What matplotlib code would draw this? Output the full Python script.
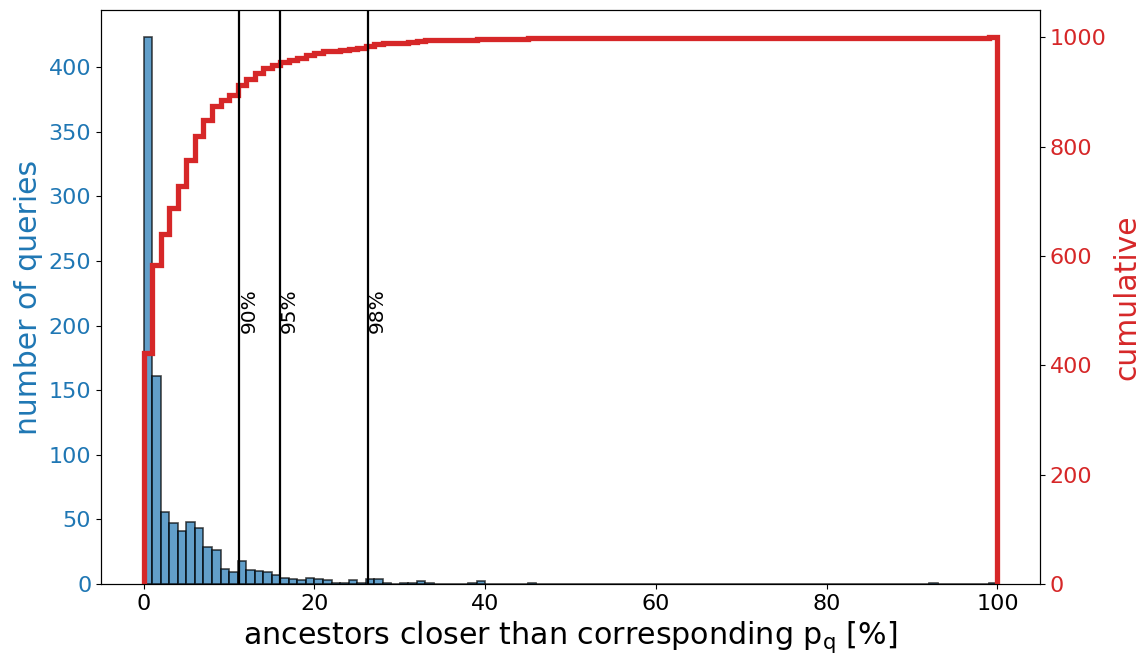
import matplotlib
matplotlib.use("Agg")
import matplotlib.pyplot as plt
import numpy as np

# queries per 1% bin of "ancestors closer than p_q" (bins 0..99)
counts = np.zeros(100)
counts[:29] = [423, 161, 56, 47, 41, 48, 43, 29, 26, 12,
               9, 18, 11, 10, 9, 7, 5, 4, 3, 5,
               4, 3, 1, 1, 3, 1, 4, 4, 1]
extra_bins = [30, 31, 32, 33, 38, 39, 45, 92, 99]
extra_counts = [1, 1, 2, 1, 1, 2, 1, 1, 1]
counts[extra_bins] = extra_counts

edges = np.arange(0, 101)
centers = edges[:-1] + 0.5

# percentile markers
pct_pos = [11.2, 15.95, 26.3]
pct_labels = ['90%', '95%', '98%']

fig = plt.figure(figsize=(11.48, 6.57), dpi=100)
ax = fig.add_axes([0.088, 0.111, 0.818, 0.874])

ax.hist(centers, bins=edges, weights=counts, color='tab:blue', alpha=0.7,
        edgecolor='black', linewidth=1.2)
ax.set_xlabel('ancestors closer than corresponding $\\mathregular{p_q}$ [%]', fontsize=21.7)
ax.set_ylabel('number of queries', color='tab:blue', fontsize=21.5)
ax.tick_params(axis='y', labelcolor='tab:blue', labelsize=16)
ax.tick_params(axis='x', labelsize=16)

ax2 = ax.twinx()
ax2.hist(centers, bins=edges, weights=counts, cumulative=True,
         histtype='step', color='tab:red', linewidth=3.8)
ax2.set_ylabel('cumulative', color='tab:red', fontsize=21.5)
ax2.tick_params(axis='y', labelcolor='tab:red', labelsize=16)

for x, lab in zip(pct_pos, pct_labels):
    ax2.axvline(x, color='black', linewidth=1.6)
    ax.text(x, 197, lab, rotation=90, fontsize=14.5)

fig.savefig('out.png', dpi=100)
